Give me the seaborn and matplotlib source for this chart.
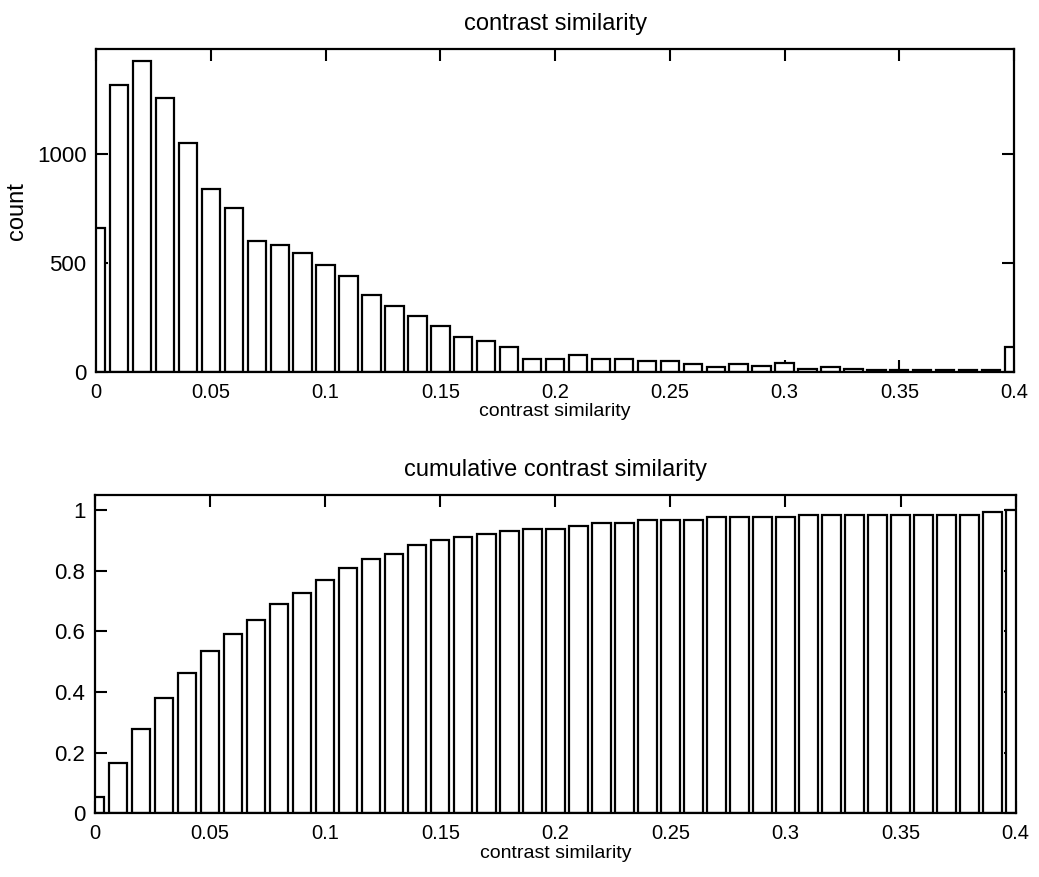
import numpy as np
import pandas as pd
import matplotlib
matplotlib.use("Agg")
import matplotlib.pyplot as plt
from matplotlib.ticker import FuncFormatter, MultipleLocator
import seaborn as sns

# Histogram bin centres and per-bin counts of contrast similarity
bin_centers = [round(0.01 * k, 2) for k in range(41)]
counts = [662, 1318, 1426, 1257, 1049, 840, 751, 600, 582, 545,
          492, 440, 351, 302, 258, 209, 157, 142, 115, 58,
          58, 77, 58, 58, 47, 47, 33, 20, 33, 24,
          42, 12, 20, 10, 9, 9, 8, 8, 8, 8,
          115]
# Cumulative fraction per bin
cumulative = [0.055, 0.167, 0.279, 0.381, 0.464, 0.536, 0.591, 0.637, 0.692, 0.727,
              0.771, 0.810, 0.838, 0.856, 0.884, 0.902, 0.911, 0.920, 0.930, 0.937,
              0.937, 0.947, 0.957, 0.957, 0.967, 0.967, 0.967, 0.976, 0.976, 0.976,
              0.978, 0.985, 0.985, 0.985, 0.985, 0.985, 0.985, 0.985, 0.985, 0.995,
              1.000]
x_ticks = [0, 0.05, 0.1, 0.15, 0.2, 0.25, 0.3, 0.35, 0.4]

df = pd.DataFrame({"sim": bin_centers, "count": counts, "cum": cumulative})

sns.set_theme(style="white")
plt.rcParams["font.family"] = ["Liberation Sans", "DejaVu Sans"]
plt.rcParams.update({
    "axes.linewidth": 1.5,
    "text.color": "black",
    "axes.labelcolor": "black",
    "xtick.color": "black",
    "ytick.color": "black",
})

fig = plt.figure(figsize=(10.39, 8.77), dpi=100)
ax1 = fig.add_axes([0.0925, 0.5762, 0.8835, 0.3674])
ax2 = fig.add_axes([0.0915, 0.0726, 0.886, 0.3629])

bar_kw = dict(x="sim", binwidth=0.01, binrange=(-0.005, 0.405), shrink=0.8,
              color="white", edgecolor="black", linewidth=1.6, alpha=1.0,
              fill=True, stat="count")

sns.histplot(data=df, weights="count", ax=ax1, **bar_kw)
sns.histplot(data=df, weights="cum", ax=ax2, **bar_kw)

fmt = FuncFormatter(lambda v, p: "%g" % round(v, 4))

for ax in (ax1, ax2):
    ax.set_xlim(0, 0.4)
    ax.set_xticks(x_ticks)
    ax.xaxis.set_major_formatter(fmt)
    ax.tick_params(axis="both", which="major", direction="in", length=8.5, width=1.5,
                   top=True, right=True, bottom=True, left=True, pad=7)
    ax.tick_params(axis="x", labelsize=14.5, pad=8)
    ax.tick_params(axis="y", labelsize=16)
    for s in ax.spines.values():
        s.set_visible(True)
        s.set_color("black")
        s.set_linewidth(1.6)
    ax.set_xlabel("contrast similarity", fontsize=14, labelpad=1)

ax1.set_ylim(0, 1480)
ax1.set_yticks([0, 500, 1000])
ax1.set_ylabel("count", fontsize=17, labelpad=6)
ax1.set_title("contrast similarity", fontsize=17, pad=14)

ax2.set_ylim(0, 1.05)
ax2.yaxis.set_major_locator(MultipleLocator(0.2))
ax2.yaxis.set_major_formatter(fmt)
ax2.set_ylabel("")
ax2.set_title("cumulative contrast similarity", fontsize=17, pad=14)

fig.savefig("out.png", dpi=100, facecolor="white")
